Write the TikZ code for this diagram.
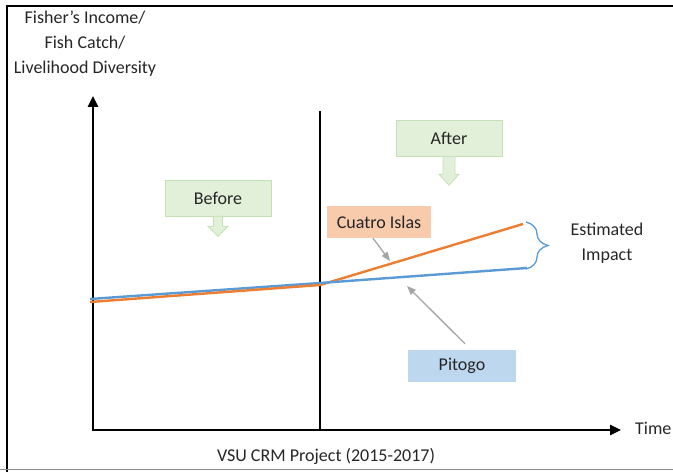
\documentclass[tikz,border=0pt]{standalone}
\usepackage{fontspec}
\setmainfont{Carlito}
\usepackage{xcolor}
\usetikzlibrary{arrows.meta,positioning,calc,decorations.pathreplacing}

\definecolor{lineorange}{HTML}{ED7D31}
\definecolor{lineblue}{HTML}{5B9BD5}
\definecolor{boxgreen}{HTML}{E2F0D9}
\definecolor{edgegreen}{HTML}{C5E0B4}
\definecolor{boxorange}{HTML}{F8CBAD}
\definecolor{boxblue}{HTML}{BDD7EE}
\definecolor{pointer}{HTML}{A5A5A5}

\begin{document}
\begin{tikzpicture}[
    x=1pt, y=1pt,
    lbl/.style={font=\fontsize{18}{25}\selectfont, text=black!85, inner sep=0pt, align=center},
    phase/.style={lbl, draw=edgegreen, fill=boxgreen, minimum width=106pt, minimum height=36pt},
    site/.style={lbl, minimum height=32pt},
    greenarrow/.style={draw=edgegreen, fill=boxgreen, line width=0.8pt},
    axis/.style={{Triangle[length=11pt,width=10pt]}-{Triangle[length=11pt,width=10pt]}, line width=2.6pt},
    series/.style={line width=2.4pt},
    pointarrow/.style={-{Triangle[length=9pt,width=7pt]}, draw=pointer, line width=1.3pt}
]
\clip (0,0) rectangle (673,472);

% frame
\draw[line width=2.4pt] (7,0) -- (7,466) -- (673,466);
\draw[black!45, line width=1.2pt] (0,2.5) -- (673,2.5);

% axes and divider
\coordinate (origin) at (93,42);
\coordinate (ytip) at (93,376);
\coordinate (xtip) at (621,42);
\coordinate (mtop) at (320,361);
\coordinate (mbot) at (320,42);
\draw[axis] (ytip) -- (origin) -- (xtip);
\draw[line width=1.8pt] (mtop) -- (mbot);

% the two series
\coordinate (b0) at (90,173);
\coordinate (b1) at (320,189);
\coordinate (b2) at (527,204);
\coordinate (o0) at (90,170);
\coordinate (o1) at (320,187);
\coordinate (o2) at (523,248);
\draw[series, lineblue] (b0) -- (b1);
\draw[series, lineorange] (o0) -- (o1) -- (o2);
\draw[series, lineblue] (b1) -- (b2);

% labels
\node[lbl] (ylabel) at (85,428) {Fisher’s Income/\\Fish Catch/\\Livelihood Diversity};
\node[lbl, anchor=west] (time) at (635,44) {Time};
\node[lbl] (project) at (326,16) {VSU CRM Project (2015-2017)};
\node[lbl] (impact) at (607,229) {Estimated\\Impact};

% before / after
\node[phase] (before) at (218,274) {Before};
\node[phase] (after) at (449,334) {After};
\draw[greenarrow] ([xshift=-4.5pt]before.south) -- ++(0,-10) -- ++(-5.5,0) -- ++(10,-10)
    -- ++(10,10) -- ++(-5.5,0) -- ++(0,10) -- cycle;
\draw[greenarrow] ([xshift=-6pt]after.south) -- ++(0,-18) -- ++(-4,0) -- ++(10,-11)
    -- ++(10,11) -- ++(-4,0) -- ++(0,18) -- cycle;

% sites
\node[site, fill=boxorange, minimum width=104pt] (cuatro) at (379,250) {Cuatro Islas};
\node[site, fill=boxblue, minimum width=108pt] (pitogo) at (462,106) {Pitogo};
\coordinate (cuatrohit) at (390,211);
\coordinate (pitogohit) at (407,186);
\draw[pointarrow] ([xshift=-6pt]cuatro.south) -- (cuatrohit);
\draw[pointarrow] ([xshift=3pt,yshift=6pt]pitogo.north) -- (pitogohit);

% gap between the series
\draw[lineblue, line width=1.3pt, decorate, decoration={brace, amplitude=22pt, aspect=0.5}]
    (526,250) -- (526,203);
\end{tikzpicture}
\end{document}
